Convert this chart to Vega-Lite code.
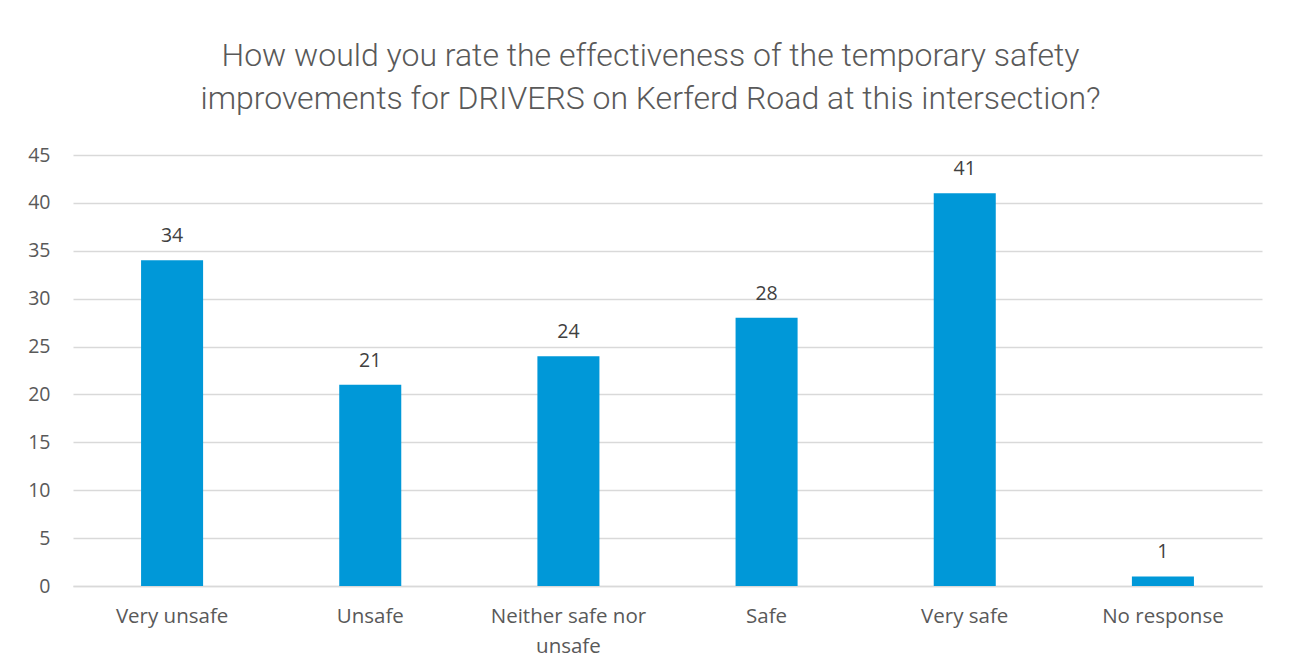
{
  "$schema": "https://vega.github.io/schema/vega-lite/v6.json",
  "width": 1189,
  "height": 431,
  "autosize": {"type": "none"},
  "padding": {"left": 73, "top": 155, "right": 30, "bottom": 82},
  "background": "white",
  "title": {
    "text": ["How would you rate the effectiveness of the temporary safety", "improvements for DRIVERS on Kerferd Road at this intersection?"],
    "font": "Roboto",
    "fontWeight": 300,
    "fontSize": 32,
    "lineHeight": 43,
    "color": "#595959",
    "anchor": "middle",
    "dx": -17,
    "offset": 29
  },
  "data": {
    "values": [
      {"category": "Very unsafe", "count": 34},
      {"category": "Unsafe", "count": 21},
      {"category": "Neither safe nor unsafe", "count": 24},
      {"category": "Safe", "count": 28},
      {"category": "Very safe", "count": 41},
      {"category": "No response", "count": 1}
    ]
  },
  "encoding": {
    "x": {
      "field": "category",
      "type": "nominal",
      "sort": null,
      "scale": {"paddingInner": 0.687, "paddingOuter": 0.3435},
      "axis": {
        "title": null,
        "labelAngle": 0,
        "labelFont": "Open Sans",
        "labelFontSize": 20.5,
        "labelColor": "#595959",
        "labelPadding": 20,
        "labelLineHeight": 30,
        "labelExpr": "datum.label == 'Neither safe nor unsafe' ? ['Neither safe nor', 'unsafe'] : datum.label",
        "ticks": false,
        "domainColor": "#d9d9d9",
        "domainWidth": 1.5,
        "grid": false
      }
    },
    "y": {
      "field": "count",
      "type": "quantitative",
      "scale": {"domain": [0, 45]},
      "axis": {
        "title": null,
        "values": [0, 5, 10, 15, 20, 25, 30, 35, 40, 45],
        "labelFont": "Open Sans",
        "labelFontSize": 19.5,
        "labelColor": "#595959",
        "labelPadding": 23,
        "ticks": false,
        "domain": false,
        "gridColor": "#d9d9d9",
        "gridWidth": 1.5
      }
    }
  },
  "layer": [
    {"mark": {"type": "bar", "color": "#0098d8"}},
    {
      "mark": {"type": "text", "dy": -18, "baseline": "alphabetic", "font": "Open Sans", "fontSize": 19.5, "color": "#404040"},
      "encoding": {"text": {"field": "count", "type": "quantitative"}}
    }
  ],
  "config": {"view": {"stroke": null}}
}
